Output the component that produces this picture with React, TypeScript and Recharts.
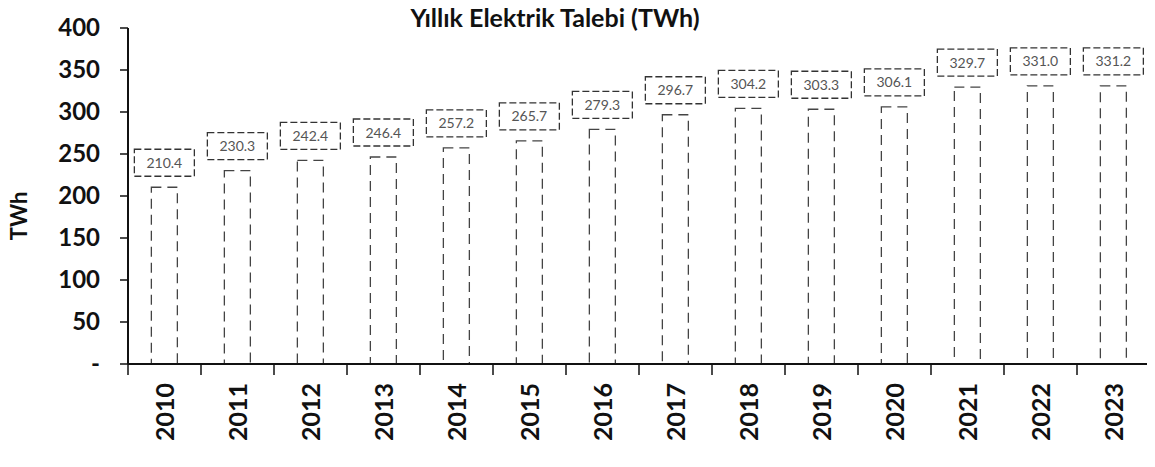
import { BarChart, Bar, XAxis, YAxis, LabelList } from 'recharts';

const years = ['2010', '2011', '2012', '2013', '2014', '2015', '2016', '2017', '2018', '2019', '2020', '2021', '2022', '2023'];
const demand = [210.4, 230.3, 242.4, 246.4, 257.2, 265.7, 279.3, 296.7, 304.2, 303.3, 306.1, 329.7, 331.0, 331.2];
const yTicks = [0, 50, 100, 150, 200, 250, 300, 350, 400];

const chartData = years.map((year, i) => ({ year, value: demand[i] }));

const W = 1155;
const H = 467;
const margin = { top: 28, right: 5, bottom: 0, left: 0 };
const yAxisWidth = 128;
const bandWidth = (W - margin.left - margin.right - yAxisWidth) / years.length;

const font = 'Lato, "Open Sans", "DejaVu Sans", sans-serif';

function YTick({ x, y, payload }: any) {
  return (
    <text x={x - 18} y={y} dy={8} textAnchor="end" fontFamily={font} fontWeight={700} fontSize={24} fill="#111">
      {payload.value === 0 ? '-' : payload.value}
    </text>
  );
}

function XTick({ x, y, payload, index }: any) {
  const ty = y + 11;
  return (
    <g>
      <line x1={x - bandWidth / 2} x2={x - bandWidth / 2} y1={y - 8} y2={y + 3} stroke="#111" strokeWidth={1.5} />
      {index === years.length - 1 && (
        <line x1={x + bandWidth / 2} x2={x + bandWidth / 2} y1={y - 8} y2={y + 3} stroke="#111" strokeWidth={1.5} />
      )}
      <text x={x} y={ty} transform={`rotate(-90 ${x} ${ty})`} dy={9} textAnchor="end" fontFamily={font} fontWeight={700} fontSize={25} fill="#111">
        {payload.value}
      </text>
    </g>
  );
}

function ValueBox({ x, y, width, value }: any) {
  const cx = x + width / 2;
  const bw = 60;
  const bh = 27;
  const top = y - bh - 11;
  return (
    <g>
      <rect x={cx - bw / 2} y={top} width={bw} height={bh} fill="#fff" stroke="#333" strokeWidth={1.3} strokeDasharray="7 3" />
      <text x={cx} y={top + bh / 2 + 5} textAnchor="middle" fontFamily={font} fontSize={14} fill="#555">
        {Number(value).toFixed(1)}
      </text>
    </g>
  );
}

export default function App() {
  return (
    <div style={{ width: W, height: H, margin: -8, background: '#fff', position: 'relative' }}>
      <BarChart width={W} height={H} data={chartData} margin={margin} barCategoryGap="32%">
        <text x={555} y={27} textAnchor="middle" fontFamily={font} fontWeight={700} fontSize={25} fill="#111">
          Yıllık Elektrik Talebi (TWh)
        </text>
        <YAxis
          width={yAxisWidth}
          domain={[0, 400]}
          ticks={yTicks}
          interval={0}
          tick={<YTick />}
          tickSize={8}
          axisLine={{ stroke: '#111', strokeWidth: 2 }}
          tickLine={{ stroke: '#111', strokeWidth: 1.5 }}
          label={{ value: 'TWh', angle: -90, position: 'insideLeft', dx: 14, dy: 20, style: { fontFamily: font, fontWeight: 700, fontSize: 22, fill: '#111', textAnchor: 'middle' } }}
        />
        <XAxis
          dataKey="year"
          height={103}
          interval={0}
          tick={<XTick />}
          tickLine={false}
          axisLine={{ stroke: '#111', strokeWidth: 2 }}
        />
        <Bar dataKey="value" fill="#fff" stroke="#444" strokeWidth={1.3} strokeDasharray="10 6" isAnimationActive={false}>
          <LabelList dataKey="value" content={<ValueBox />} />
        </Bar>
      </BarChart>
    </div>
  );
}
